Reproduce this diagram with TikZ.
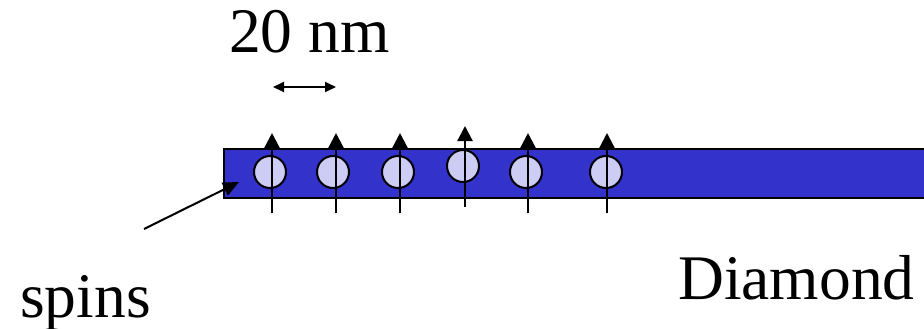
\documentclass[tikz,border=0pt]{standalone}
\usepackage{fontspec}
\setmainfont{Liberation Serif}
\usetikzlibrary{arrows.meta}
\definecolor{barblue}{RGB}{51,51,204}
\definecolor{spinfill}{RGB}{204,204,245}
\tikzset{
  layer/.style={draw=black, line width=1.5pt, fill=barblue},
  spindot/.style={circle, draw=black, line width=2pt, fill=spinfill, minimum size=32pt, inner sep=0pt},
  spinarrow/.style={line width=2.2pt, -{Triangle[length=15pt,width=15pt]}},
  label/.style={font=\fontsize{63.5}{70}\selectfont, inner sep=0pt, anchor=base west},
}
\begin{document}
\begin{tikzpicture}[x=1pt,y=-1pt]
  \useasboundingbox (0,0) rectangle (924,329);
  % diamond layer running off the right edge
  \fill[barblue] (224,149) rectangle (935,198);
  \draw[line width=1.5pt] (935,149) -- (224,149) -- (224,198) -- (935,198);
  \coordinate (layerleft) at (239,182);
  % spins with their moments
  \foreach \n/\cx/\cy/\ax/\ab/\at in {1/270/172/272/213/133, 2/333/172/336/213/133, 3/398/172/400/213/133, 4/463/166/465/207/126, 5/526/172/528/213/133, 6/606/172/607/213/133}{
    \node[spindot] (s\n) at (\cx,\cy) {};
    \coordinate (b\n) at (\ax,\ab);
    \coordinate (t\n) at (\ax,\at);
    \draw[spinarrow] (b\n) -- (t\n);
  }
  % spacing scale
  \node[label] (scale) at (229,53) {20 nm};
  \coordinate (ml) at (273,87);
  \coordinate (mr) at (336,87);
  \draw[line width=1.8pt, {Triangle[length=11pt,width=10pt]}-{Triangle[length=11pt,width=10pt]}] (ml) -- (mr);
  % labels
  \node[label] (spins) at (20,317) {spins};
  \node[label] (diamond) at (678,299) {Diamond};
  \coordinate (spinstail) at (144,229);
  \draw[line width=2pt, -{Triangle[length=16pt,width=14pt]}] (spinstail) -- (layerleft);
\end{tikzpicture}
\end{document}
